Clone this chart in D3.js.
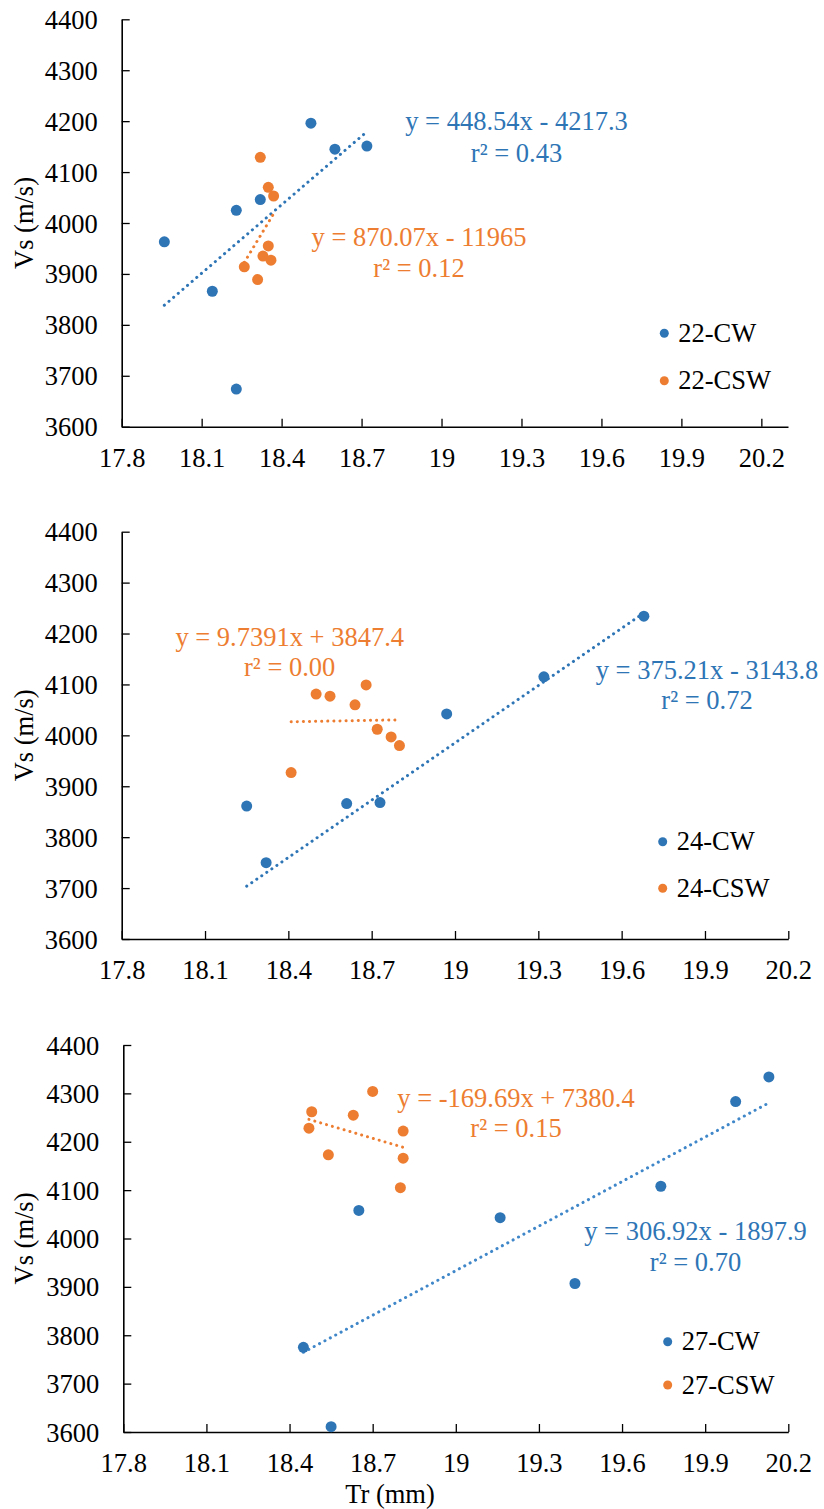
<!DOCTYPE html>
<html>
<head>
<meta charset="utf-8">
<script src="https://cdn.jsdelivr.net/npm/d3@7"></script>
<style>
  body { margin: 0; background: #fff; }
</style>
</head>
<body>
<div id="app"></div>
<script>
// tick values
const xTicks = [17.8, 18.1, 18.4, 18.7, 19, 19.3, 19.6, 19.9, 20.2];
const yTicks = [3600, 3700, 3800, 3900, 4000, 4100, 4200, 4300, 4400];

// 22 mm
const tr22CW = [17.96, 18.14, 18.23, 18.23, 18.32, 18.51, 18.60, 18.72];
const vs22CW = [3963, 3866, 4025, 3674, 4046, 4196, 4145, 4151];
const tr22CSW = [18.32, 18.35, 18.37, 18.35, 18.33, 18.36, 18.26, 18.31];
const vs22CSW = [4129, 4070, 4053, 3955, 3935, 3927, 3914, 3889];

// 24 mm
const tr24CW = [18.25, 18.32, 18.61, 18.73, 18.97, 19.32, 19.68];
const vs24CW = [3861, 3750, 3866, 3868, 4042, 4115, 4234];
const tr24CSW = [18.41, 18.50, 18.55, 18.64, 18.68, 18.72, 18.77, 18.80];
const vs24CSW = [3927, 4081, 4077, 4060, 4099, 4012, 3997, 3980];

// 27 mm
const tr27CW = [18.45, 18.55, 18.65, 19.16, 19.43, 19.74, 20.01, 20.13];
const vs27CW = [3775, 3611, 4058, 4043, 3907, 4108, 4283, 4334];
const tr27CSW = [18.48, 18.47, 18.54, 18.63, 18.70, 18.81, 18.81, 18.80];
const vs27CSW = [4262, 4228, 4173, 4255, 4304, 4222, 4166, 4105];

// trendlines (Excel linear fits)
const cwSlope = [448.54, 375.21, 306.92];
const cwIntercept = [-4217.3, -3143.8, -1897.9];
const cswSlope = [870.07, 9.7391, -169.69];
const cswIntercept = [-11965, 3847.4, 7380.4];
const cwEq = ["y = 448.54x - 4217.3", "y = 375.21x - 3143.8", "y = 306.92x - 1897.9"];
const cwR2 = ["r\u00b2 = 0.43", "r\u00b2 = 0.72", "r\u00b2 = 0.70"];
const cswEq = ["y = 870.07x - 11965", "y = 9.7391x + 3847.4", "y = -169.69x + 7380.4"];
const cswR2 = ["r\u00b2 = 0.12", "r\u00b2 = 0.00", "r\u00b2 = 0.15"];
const seriesNames = [["22-CW", "22-CSW"], ["24-CW", "24-CSW"], ["27-CW", "27-CSW"]];

const blue = "#2e75b6";
const orange = "#ed7d31";
const fontSize = 26.5;
const font = "Liberation Serif";

const svg = d3.select('#app')
    .append('svg')
    .attr('width', 824)
    .attr('height', 1509)
    .style('display', 'block')

// layout of the three panels
const panels = [
    {
        box: {l: 121.7, r: 788, t: 19.3, b: 426.7}, xMax: 20.3,
        cw: [tr22CW, vs22CW], csw: [tr22CSW, vs22CSW],
        cwLab: [516.5, 130, 162], cswLab: [419, 246, 277],
        leg: [664.3, 333.3, 380.7], trendBlue: blue
    },
    {
        box: {l: 121.7, r: 788.3, t: 531.7, b: 939}, xMax: 20.2,
        cw: [tr24CW, vs24CW], csw: [tr24CSW, vs24CSW],
        cwLab: [707, 679, 709.3], cswLab: [289.7, 645.7, 676],
        leg: [662.7, 841.7, 888.3], trendBlue: blue
    },
    {
        box: {l: 123.3, r: 788.3, t: 1045, b: 1432}, xMax: 20.2,
        cw: [tr27CW, vs27CW], csw: [tr27CSW, vs27CSW],
        cwLab: [695.5, 1240, 1271], cswLab: [516, 1107.3, 1137.3],
        leg: [667.7, 1341.7, 1385], trendBlue: "#3f87c9"
    }
];

panels.forEach((p, i) => {
    const xScale = d3.scaleLinear().domain([17.8, p.xMax]).range([p.box.l, p.box.r])
    const yScale = d3.scaleLinear().domain([3600, 4400]).range([p.box.b, p.box.t])
    const g = svg.append('g')

    // axes
    const xAxis = g.append('g')
        .attr('transform', `translate(0,${p.box.b})`)
        .call(d3.axisBottom(xScale).tickValues(xTicks).tickFormat(d => String(+d.toFixed(1)))
            .tickSizeInner(-8).tickSizeOuter(0))
    const yAxis = g.append('g')
        .attr('transform', `translate(${p.box.l},0)`)
        .call(d3.axisLeft(yScale).tickValues(yTicks).tickFormat(d3.format('d'))
            .tickSizeInner(-8).tickSizeOuter(0))
    ;[xAxis, yAxis].forEach(a => {
        a.attr('font-family', font).attr('font-size', fontSize)
        a.select('.domain').attr('stroke', '#000').attr('stroke-width', 1.6)
        a.selectAll('.tick line').attr('stroke', '#000').attr('stroke-width', 1.3)
        a.selectAll('.tick text').attr('fill', '#000')
    })
    xAxis.selectAll('.tick text').attr('y', 40).attr('dy', null)
    yAxis.selectAll('.tick text').attr('x', -24).attr('dy', '0.34em')

    // y title
    g.append('text')
        .attr('transform', `translate(33,${(p.box.t + p.box.b) / 2}) rotate(-90)`)
        .attr('text-anchor', 'middle')
        .text('Vs (m/s)')

    // trendlines
    const trend = (xs, m, c, col) => {
        const ext = d3.extent(xs)
        g.append('line')
            .attr('x1', xScale(ext[0])).attr('y1', yScale(m * ext[0] + c))
            .attr('x2', xScale(ext[1])).attr('y2', yScale(m * ext[1] + c))
            .attr('stroke', col)
            .attr('stroke-width', 3)
            .attr('stroke-linecap', 'round')
            .attr('stroke-dasharray', '0.1 6')
    }
    trend(p.cw[0], cwSlope[i], cwIntercept[i], p.trendBlue)
    trend(p.csw[0], cswSlope[i], cswIntercept[i], orange)

    // points
    const dots = (s, col) => {
        g.selectAll(null)
            .data(d3.zip(s[0], s[1]))
            .join('circle')
            .attr('cx', d => xScale(d[0]))
            .attr('cy', d => yScale(d[1]))
            .attr('r', 5.5)
            .attr('fill', col)
    }
    dots(p.cw, blue)
    dots(p.csw, orange)

    // equation labels
    const label = (pos, lines, col) => {
        lines.forEach((t, k) => {
            g.append('text')
                .attr('x', pos[0]).attr('y', pos[1 + k])
                .attr('text-anchor', 'middle')
                .attr('fill', col)
                .text(t)
        })
    }
    label(p.cwLab, [cwEq[i], cwR2[i]], blue)
    label(p.cswLab, [cswEq[i], cswR2[i]], orange)

    // legend
    ;[blue, orange].forEach((col, k) => {
        const cy = p.leg[1 + k]
        g.append('circle').attr('cx', p.leg[0]).attr('cy', cy).attr('r', 4.5).attr('fill', col)
        g.append('text')
            .attr('x', p.leg[0] + 14).attr('y', cy + 8.6)
            .text(seriesNames[i][k])
    })
})

// x title, bottom panel only
svg.append('text')
    .attr('x', 390).attr('y', 1503)
    .attr('text-anchor', 'middle')
    .text('Tr (mm)')

svg.selectAll('text')
    .style('font-family', font)
    .style('font-size', fontSize + 'px')
</script>
</body>
</html>
